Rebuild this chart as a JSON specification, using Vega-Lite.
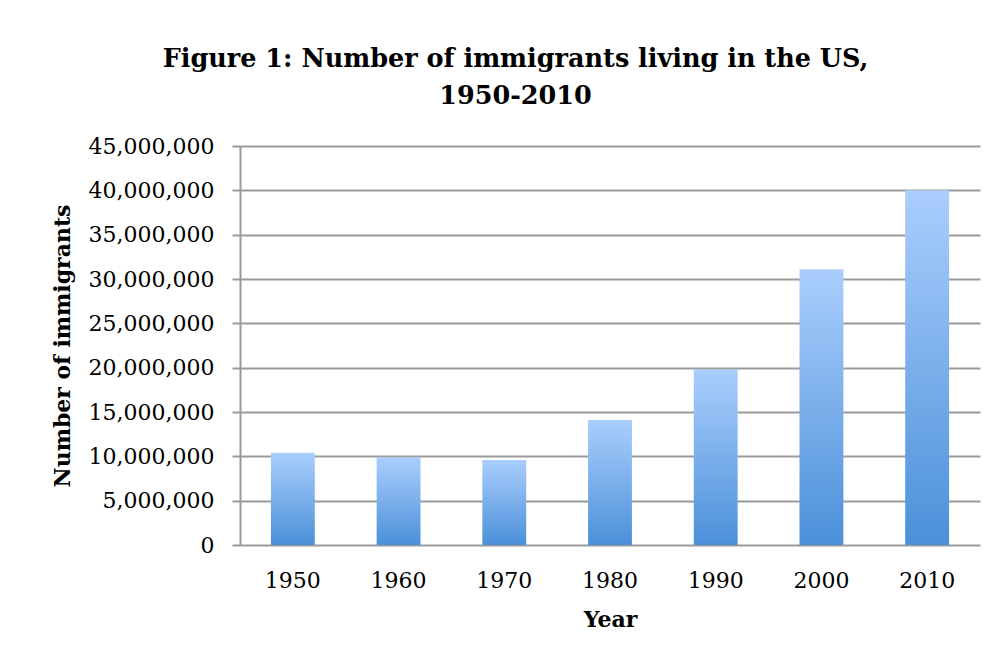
{
  "$schema": "https://vega.github.io/schema/vega-lite/v6.json",
  "autosize": {"type": "none"},
  "width": 740,
  "height": 399,
  "padding": {"left": 240, "top": 146, "right": 23, "bottom": 125},
  "background": "white",
  "title": {
    "text": ["Figure 1: Number of immigrants living in the US,", "1950-2010"],
    "font": "DejaVu Serif",
    "fontSize": 25.5,
    "fontWeight": "bold",
    "color": "black",
    "anchor": "middle",
    "frame": "bounds",
    "lineHeight": 37,
    "offset": 26
  },
  "data": {
    "values": [
      {"year": "1950", "immigrants": 10400000},
      {"year": "1960", "immigrants": 9900000},
      {"year": "1970", "immigrants": 9600000},
      {"year": "1980", "immigrants": 14100000},
      {"year": "1990", "immigrants": 19800000},
      {"year": "2000", "immigrants": 31100000},
      {"year": "2010", "immigrants": 40000000}
    ]
  },
  "mark": {
    "type": "bar",
    "color": {
      "gradient": "linear",
      "x1": 0, "y1": 0, "x2": 0, "y2": 1,
      "stops": [
        {"offset": 0, "color": "#aacefd"},
        {"offset": 1, "color": "#4b90d9"}
      ]
    }
  },
  "encoding": {
    "x": {
      "field": "year",
      "type": "ordinal",
      "scale": {"paddingInner": 0.585, "paddingOuter": 0.2925},
      "axis": {
        "title": "Year",
        "labelAngle": 0,
        "ticks": false,
        "domain": false,
        "grid": false,
        "labelPadding": 25,
        "titlePadding": 18
      }
    },
    "y": {
      "field": "immigrants",
      "type": "quantitative",
      "scale": {"domain": [0, 45000000], "nice": false},
      "axis": {
        "title": "Number of immigrants",
        "values": [0, 5000000, 10000000, 15000000, 20000000, 25000000, 30000000, 35000000, 40000000, 45000000],
        "format": ",d",
        "tickSize": 8,
        "labelPadding": 18,
        "titlePadding": 14,
        "domain": true,
        "grid": true
      }
    }
  },
  "config": {
    "view": {"stroke": null},
    "axis": {
      "labelFont": "DejaVu Serif",
      "labelFontSize": 22,
      "labelColor": "black",
      "titleFont": "DejaVu Serif",
      "titleFontSize": 22,
      "titleFontWeight": "bold",
      "titleColor": "black",
      "domainColor": "#9a9a9a",
      "domainWidth": 2,
      "tickColor": "#9a9a9a",
      "tickWidth": 2,
      "gridColor": "#9a9a9a",
      "gridWidth": 2,
      "gridOpacity": 1
    }
  }
}
